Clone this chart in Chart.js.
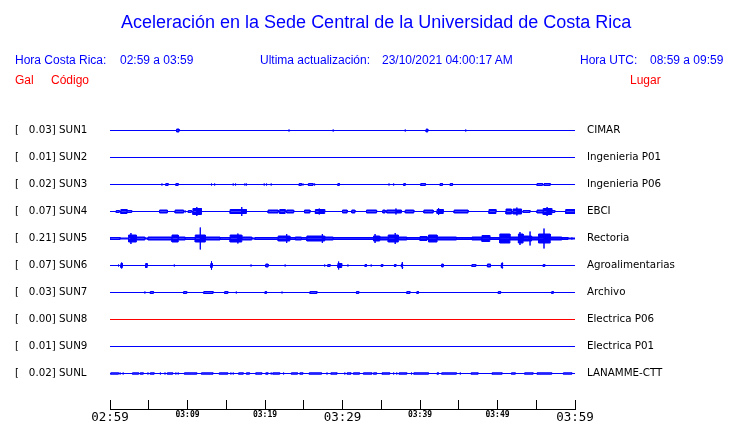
<!DOCTYPE html>
<html>
<head>
<meta charset="utf-8">
<script src="https://cdn.jsdelivr.net/npm/chart.js@4.4.0/dist/chart.umd.min.js"></script>
<style>
  body { margin: 0; background: #fff; }
  #wrap { position: relative; width: 740px; height: 423px; background: #fff; }
  #chart { position: absolute; left: 0; top: 0; }
  .t { position: absolute; font-family: "Liberation Sans", Arial, sans-serif; font-size: 12px; line-height: 14px; color: #0000ff; white-space: pre; }
  .r { color: #ff0000; }
</style>
</head>
<body>
<div id="wrap">
  <canvas id="chart" width="740" height="423"></canvas>
  <div class="t" style="left:121px;top:11px;font-size:18px;line-height:22px;">Aceleración en la Sede Central de la Universidad de Costa Rica</div>
  <div class="t" style="left:15px;top:53px;">Hora Costa Rica:</div>
  <div class="t" style="left:120px;top:53px;">02:59 a 03:59</div>
  <div class="t" style="left:260px;top:53px;">Ultima actualización:</div>
  <div class="t" style="left:382px;top:53px;">23/10/2021 04:00:17 AM</div>
  <div class="t" style="left:580px;top:53px;">Hora UTC:</div>
  <div class="t" style="left:650px;top:53px;">08:59 a 09:59</div>
  <div class="t r" style="left:15px;top:73px;">Gal</div>
  <div class="t r" style="left:51px;top:73px;">Código</div>
  <div class="t r" style="left:630px;top:73px;">Lugar</div>
</div>
<script>
  // --- Data ---
  const codes = ['SUN1', 'SUN2', 'SUN3', 'SUN4', 'SUN5', 'SUN6', 'SUN7', 'SUN8', 'SUN9', 'SUNL'];
  const galPeaks = ['0.03', '0.01', '0.02', '0.07', '0.21', '0.07', '0.03', '0.00', '0.01', '0.02'];
  const places = ['CIMAR', 'Ingenieria P01', 'Ingenieria P06', 'EBCI', 'Rectoria', 'Agroalimentarias',
                  'Archivo', 'Electrica P06', 'Electrica P01', 'LANAMME-CTT'];
  const timeLabels = ['02:59', '', '03:09', '', '03:19', '', '03:29', '', '03:39', '', '03:49', '', '03:59'];

  // bursts: [start minute, end minute, amplitude] (minutes after 02:59)
  const sun1Bursts = [[8.6, 8.9, 2], [10.1, 10.1, 1], [23.1, 23.1, 1.5], [28.8, 28.8, 1.5], [38.1, 38.1, 1.5],
    [40.8, 41.0, 2], [45.9, 45.9, 1.5]];
  const sun2Bursts = [];
  const sun3Bursts = [[3.5, 3.5, 1], [6.7, 6.7, 1.5], [7.2, 7.5, 1.5], [8.5, 8.8, 1.5], [12.3, 12.3, 1], [13.1, 13.1, 1.5],
    [13.5, 13.5, 1.5], [15.9, 15.9, 1.5], [16.2, 16.2, 1.5], [17.4, 17.4, 1.5], [17.6, 17.6, 1.5], [19.9, 19.9, 1.5],
    [20.2, 20.2, 1.5], [20.8, 20.8, 1.5], [21.0, 21.0, 1], [22.2, 22.2, 1], [24.4, 24.7, 1.5], [24.9, 24.9, 1.5],
    [25.1, 25.1, 1], [25.6, 26.2, 1.5], [26.4, 26.4, 1.5], [29.1, 29.1, 1], [29.4, 29.6, 1.5], [35.2, 35.2, 1],
    [36.0, 36.0, 1.5], [36.6, 36.6, 1.5], [37.9, 38.1, 1.5], [40.1, 40.7, 1.5], [41.1, 41.1, 1], [41.6, 41.6, 1],
    [42.6, 42.9, 1.5], [43.9, 44.2, 1.5], [44.5, 44.5, 1], [44.9, 44.9, 1], [45.8, 45.8, 1], [46.1, 46.1, 1],
    [46.9, 46.9, 1], [47.1, 47.1, 1], [48.1, 48.1, 1], [48.4, 48.4, 1], [48.9, 48.9, 1], [49.7, 49.7, 1],
    [55.1, 55.8, 1.5], [56.0, 56.8, 1.5], [58.2, 58.2, 1]];
  const sun4Bursts = [[0.8, 1.2, 1.5], [1.4, 2.2, 2.5], [2.2, 2.8, 1.5], [5.3, 5.3, 1], [6.1, 6.1, 1], [6.4, 7.4, 2],
    [8.4, 9.5, 2], [9.7, 9.7, 1.5], [10.1, 10.5, 1.5], [10.7, 11.8, 3.5], [11.2, 11.2, 5], [12.1, 12.1, 1],
    [13.7, 13.7, 1], [14.2, 14.2, 1], [15.5, 17.6, 2.5], [17.0, 17.0, 5], [20.4, 21.7, 2], [21.9, 22.6, 2.5],
    [22.8, 23.7, 2], [24.5, 24.5, 1], [25.1, 25.8, 2], [26.5, 27.7, 2.5], [27.0, 27.0, 3.5], [30.0, 30.6, 2],
    [31.2, 31.6, 2], [32.8, 32.8, 1], [33.1, 34.4, 2], [35.2, 35.5, 2], [35.7, 37.6, 2], [36.9, 36.9, 3.5],
    [38.1, 39.2, 2], [39.6, 39.6, 1], [40.5, 41.7, 2], [42.2, 43.0, 2.5], [42.4, 42.4, 4], [44.4, 46.2, 2],
    [47.4, 47.4, 1], [47.9, 47.9, 1], [48.9, 49.8, 2.5], [50.7, 50.7, 1], [51.1, 51.8, 3], [52.0, 53.1, 3],
    [52.5, 52.5, 4.5], [53.3, 54.2, 1.5], [55.1, 55.9, 2], [55.9, 57.0, 3.5], [56.4, 56.4, 5], [57.0, 57.4, 1.5],
    [58.8, 60, 2.5]];
  const sun5Bursts = [[0, 1.3, 1.5], [1.3, 2.4, 1], [2.4, 3.4, 4], [2.7, 2.7, 6], [3.4, 4.5, 2], [4.5, 4.9, 1],
    [4.9, 8.0, 2], [8.0, 8.8, 4], [8.8, 9.7, 2], [9.7, 11.0, 1.5], [11.0, 12.3, 4], [11.65, 11.65, 11.5],
    [12.3, 14.2, 2], [14.2, 15.5, 1.5], [15.5, 17.0, 4], [16.5, 16.5, 5.5], [17.0, 18.3, 2], [18.3, 18.7, 1],
    [18.7, 21.7, 1.5], [21.7, 23.2, 3], [22.8, 22.8, 5], [23.2, 23.9, 1.5], [23.9, 24.7, 2], [24.7, 25.4, 1.5],
    [25.4, 27.7, 3], [27.4, 27.4, 5], [27.7, 28.8, 2], [28.8, 34.0, 1.5], [34.0, 34.8, 3], [34.2, 34.2, 5],
    [34.8, 35.9, 2], [35.9, 37.2, 4], [36.8, 36.8, 6], [37.2, 38.3, 2], [38.3, 40.0, 1.5], [40.0, 40.9, 2.5],
    [40.9, 41.1, 1.5], [41.1, 42.2, 4], [42.2, 44.7, 2], [44.7, 46.7, 1.5], [46.7, 48.0, 2], [48.0, 49.0, 3.5],
    [49.0, 50.3, 1.5], [50.3, 51.6, 5], [51.6, 52.7, 2], [52.7, 53.3, 5], [52.9, 52.9, 7], [53.3, 54.0, 3],
    [54.0, 54.4, 3], [54.2, 54.2, 7.5], [54.4, 55.3, 2], [55.3, 56.8, 5], [56.0, 56.0, 10.5], [56.8, 58.3, 2],
    [58.3, 59.1, 1.5], [59.1, 60, 1], [59.6, 59.6, 1.5]];
  const sun6Bursts = [[1.1, 1.1, 1.5], [1.4, 1.6, 2.5], [1.5, 1.5, 3.5], [2.6, 2.6, 1], [4.6, 4.8, 2.5], [6.1, 6.1, 1],
    [8.3, 8.3, 1.5], [13.0, 13.2, 2.5], [13.1, 13.1, 4.7], [15.3, 15.3, 1], [18.2, 18.2, 1.5], [20.1, 20.4, 2],
    [21.0, 21.0, 1], [22.6, 22.6, 1.5], [27.7, 27.7, 1.5], [28.1, 28.4, 1.5], [29.4, 29.9, 2.5], [29.5, 29.5, 4.5],
    [30.7, 30.7, 1.5], [32.4, 32.4, 1], [32.9, 33.1, 1.5], [33.7, 33.7, 1.5], [35.0, 35.2, 1.5], [36.7, 36.9, 1.5],
    [37.6, 37.8, 2], [37.7, 37.7, 4], [42.8, 43.0, 2], [46.5, 46.5, 1], [46.7, 47.2, 1.5], [48.7, 49.1, 2],
    [50.5, 50.7, 2.5], [50.6, 50.6, 3.5], [51.1, 51.1, 1], [53.1, 53.1, 1], [55.9, 56.1, 1.5], [56.6, 56.6, 1],
    [59.4, 59.4, 1]];
  const sun7Bursts = [[4.5, 4.5, 1.5], [5.2, 5.6, 1.5], [5.9, 5.9, 1], [9.5, 9.9, 1.5], [12.1, 13.3, 1.5],
    [14.8, 15.2, 1.5], [15.9, 15.9, 1], [16.3, 16.3, 1.5], [19.8, 19.8, 1], [20.0, 20.2, 1.5], [21.3, 21.3, 1],
    [22.1, 22.3, 1], [25.8, 26.7, 1.5], [31.7, 31.7, 1], [31.8, 32.1, 1.5], [38.3, 38.7, 1.5], [39.6, 39.8, 1.5],
    [50.1, 50.4, 1.5], [57.0, 57.2, 1.5], [57.6, 57.6, 1]];
  const sun8Bursts = [];
  const sun9Bursts = [];
  const sunlBursts = [[0.1, 1.1, 1.2], [1.3, 1.3, 1.5], [1.7, 1.7, 1.5], [2.9, 3.7, 1.2], [3.9, 4.3, 1.2],
    [4.9, 4.9, 1.5], [5.2, 5.7, 1.2], [6.5, 6.5, 1.5], [7.1, 7.1, 1.5], [7.4, 8.1, 1.2], [8.5, 8.5, 1.5],
    [8.8, 8.8, 1.5], [9.6, 11.2, 1.2], [11.8, 13.3, 1.2], [14.1, 15.2, 1.2], [15.6, 15.6, 1.5], [15.9, 15.9, 1.5],
    [16.6, 17.2, 1.2], [17.6, 18.0, 1.2], [18.8, 19.6, 1.2], [20.1, 20.4, 1.2], [20.8, 20.8, 1.5], [21.0, 21.9, 1.2],
    [22.4, 22.4, 1.5], [23.4, 24.2, 1.2], [24.5, 24.9, 1.2], [25.7, 27.3, 1.2], [28.0, 28.0, 1.5], [28.5, 29.3, 1.2],
    [30.3, 30.3, 1.5], [30.6, 31.1, 1.2], [31.4, 32.2, 1.2], [32.7, 33.8, 1.2], [34.0, 34.4, 1.2], [35.1, 36.1, 1.2],
    [36.6, 36.6, 1.5], [37.0, 37.0, 1.5], [37.3, 38.3, 1.2], [38.9, 38.9, 1.5], [39.2, 41.1, 1.2], [42.2, 42.4, 1.2],
    [42.8, 44.7, 1.2], [45.2, 45.2, 1.5], [46.6, 47.5, 1.2], [49.3, 50.6, 1.2], [51.8, 52.3, 1.2], [53.5, 54.6, 1.2],
    [55.1, 57.0, 1.2], [58.5, 59.6, 1.2]];

  const allBursts = [sun1Bursts, sun2Bursts, sun3Bursts, sun4Bursts, sun5Bursts,
                     sun6Bursts, sun7Bursts, sun8Bursts, sun9Bursts, sunlBursts];

  // --- Layout / style ---
  const ROW = 27;                    // spacing between traces (y units)
  const LINE_W = 1;
  const BLUE = '#0000ff';
  const RED = '#ff0000';
  const traceColor = code => code === 'SUN8' ? RED : BLUE;
  const baseOf = i => (codes.length - 1 - i) * ROW;

  // --- Build envelope datasets (upper and lower) for each trace ---
  // the stroke adds half a line width on each side, so the envelope is pulled in by that much
  const datasets = [];
  codes.forEach((code, i) => {
    const base = baseOf(i);
    const color = traceColor(code);
    const list = allBursts[i].slice().sort((a, b) => a[0] - b[0]);
    [1, -1].forEach(sign => {
      if (sign < 0 && list.length === 0) return;
      const pts = [{ x: 0, y: base }];
      list.forEach(([t0, t1, amp]) => {
        const top = base + sign * Math.max(amp - LINE_W / 2, 0.5);
        pts.push({ x: t0, y: base }, { x: t0, y: top }, { x: t1, y: top }, { x: t1, y: base });
      });
      pts.push({ x: 60, y: base });
      datasets.push({
        data: pts,
        borderColor: color,
        backgroundColor: color,
        borderWidth: LINE_W,
        pointRadius: 0,
        tension: 0,
        fill: { value: base }
      });
    });
  });

  const stationTicks = scale => { scale.ticks = codes.map((c, i) => ({ value: baseOf(i) })); };
  const labelFont = { family: 'DejaVu Sans', size: 10.3 };

  // --- Chart ---
  new Chart(document.getElementById('chart'), {
    type: 'line',
    data: { datasets },
    options: {
      responsive: false,
      animation: false,
      devicePixelRatio: 1,
      layout: { padding: { top: 117, left: 15, right: 0, bottom: 0 } },
      plugins: { legend: { display: false }, tooltip: { enabled: false }, title: { display: false } },
      scales: {
        x: {
          type: 'linear',
          min: 0,
          max: 60,
          afterFit: s => { s.height = 14; },
          grid: { drawOnChartArea: false, drawTicks: true, tickLength: -9, color: '#000' },
          border: { display: true, color: '#000', width: 1 },
          ticks: {
            stepSize: 5,
            autoSkip: false,
            maxRotation: 0,
            padding: 10,
            color: '#000',
            font: ctx => ctx.index % 6 === 0
              ? { family: 'DejaVu Sans Mono', size: 12.5 }
              : { family: 'DejaVu Sans Mono', size: 8, weight: 'bold' },
            callback: (v, idx) => timeLabels[idx]
          }
        },
        y: {
          type: 'linear',
          position: 'left',
          min: -35.5,
          max: 256.5,
          afterFit: s => { s.width = 95; },
          afterBuildTicks: stationTicks,
          grid: { display: false, drawTicks: false },
          border: { display: false },
          ticks: {
            crossAlign: 'far',
            padding: 0,
            color: '#000',
            font: labelFont,
            callback: (v, idx) => '[   ' + galPeaks[idx] + '] ' + codes[idx]
          }
        },
        y2: {
          type: 'linear',
          position: 'right',
          min: -35.5,
          max: 256.5,
          afterFit: s => { s.width = 165; },
          afterBuildTicks: stationTicks,
          grid: { display: false, drawTicks: true, tickLength: 12 },
          border: { display: false },
          ticks: {
            crossAlign: 'near',
            padding: 0,
            color: '#000',
            font: labelFont,
            callback: (v, idx) => places[idx]
          }
        }
      }
    }
  });
</script>
</body>
</html>
